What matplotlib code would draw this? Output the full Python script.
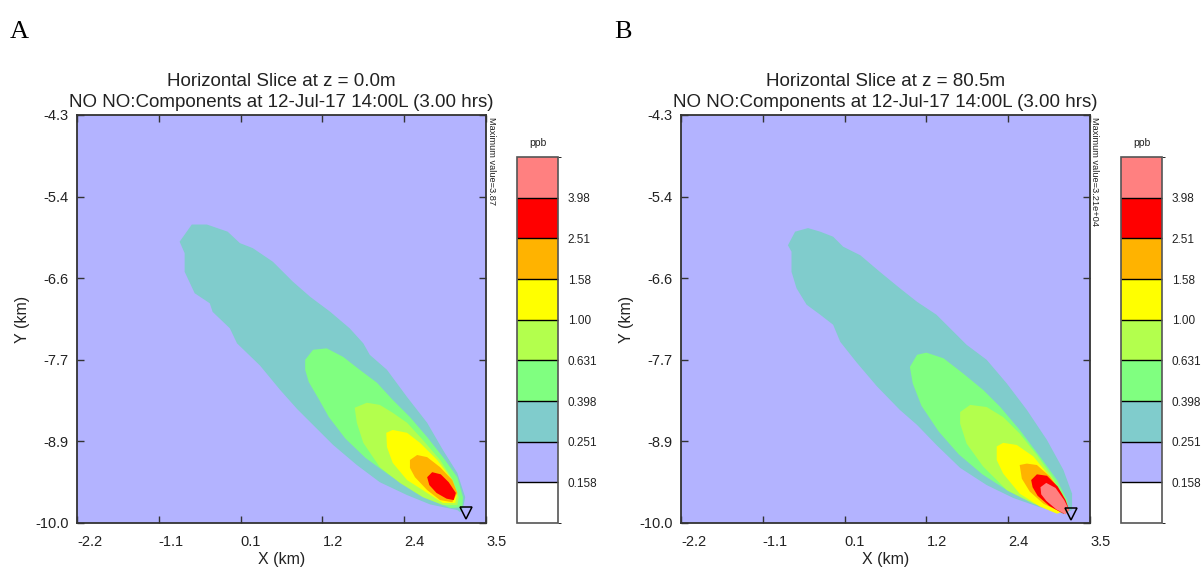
import numpy as np
import matplotlib
matplotlib.use("Agg")
import matplotlib.pyplot as plt
from matplotlib.colors import ListedColormap, BoundaryNorm
import matplotlib.cm as cm

plt.rcParams['font.family'] = ['Liberation Sans', 'DejaVu Sans']

# ---- contour levels (ppb) and colours ----
levels = [0.158, 0.251, 0.398, 0.631, 1.00, 1.58, 2.51, 3.98]
level_labels = ['0.158', '0.251', '0.398', '0.631', '1.00', '1.58', '2.51', '3.98']
level_colors = ['#ffffff', '#b3b3ff', '#80cccc', '#80ff80', '#b3ff4d',
                '#ffff00', '#ffb300', '#ff0000', '#ff8080']

x_range = [-2.2, 3.5]
y_range = [-10.0, -4.3]

# ---- panel A, z = 0.0 m : outlines of each filled level (km) ----
a_0251 = [(-0.77, -6.07), (-0.60, -5.83), (-0.39, -5.83), (-0.10, -5.93), (0.07, -6.09),
          (0.25, -6.16), (0.53, -6.35), (0.81, -6.63), (1.05, -6.84), (1.33, -7.05),
          (1.60, -7.28), (1.79, -7.49), (1.88, -7.65), (2.12, -7.86), (2.40, -8.24),
          (2.68, -8.60), (2.90, -8.98), (3.10, -9.30), (3.21, -9.64), (3.18, -9.79),
          (3.14, -9.85), (3.10, -9.82), (2.72, -9.74), (2.40, -9.61), (2.02, -9.43),
          (1.70, -9.19), (1.37, -8.91), (1.09, -8.63), (0.87, -8.41), (0.63, -8.14),
          (0.35, -7.80), (0.03, -7.49), (-0.07, -7.28), (-0.31, -7.05), (-0.35, -6.93),
          (-0.56, -6.79), (-0.70, -6.49), (-0.70, -6.23)]
a_0398 = [(0.98, -7.72), (1.09, -7.58), (1.28, -7.56), (1.51, -7.68), (1.74, -7.86),
          (1.98, -8.04), (2.20, -8.28), (2.44, -8.52), (2.68, -8.80), (2.90, -9.08),
          (3.10, -9.36), (3.18, -9.64), (3.17, -9.78), (3.00, -9.79), (2.78, -9.69),
          (2.47, -9.53), (2.15, -9.33), (1.82, -9.09), (1.54, -8.82), (1.31, -8.52),
          (1.17, -8.27), (1.03, -8.03), (0.98, -7.86)]
a_0631 = [(1.67, -8.39), (1.84, -8.32), (2.02, -8.35), (2.20, -8.46), (2.40, -8.60),
          (2.62, -8.84), (2.86, -9.12), (3.04, -9.40), (3.12, -9.64), (3.10, -9.75),
          (2.90, -9.75), (2.62, -9.64), (2.30, -9.44), (2.02, -9.22), (1.79, -8.88),
          (1.70, -8.60)]
a_100 = [(2.11, -8.74), (2.20, -8.70), (2.40, -8.74), (2.58, -8.88), (2.82, -9.12),
         (3.00, -9.36), (3.10, -9.58), (3.07, -9.72), (2.90, -9.72), (2.68, -9.58),
         (2.40, -9.40), (2.20, -9.16), (2.12, -8.94)]
a_158 = [(2.44, -9.12), (2.54, -9.05), (2.68, -9.08), (2.86, -9.22), (3.03, -9.40),
         (3.10, -9.58), (3.03, -9.71), (2.86, -9.68), (2.68, -9.54), (2.51, -9.36),
         (2.44, -9.23)]
a_251 = [(2.68, -9.36), (2.75, -9.29), (2.87, -9.32), (2.98, -9.43), (3.08, -9.58),
         (3.05, -9.68), (2.95, -9.66), (2.81, -9.58), (2.71, -9.47)]
a_398 = []
a_source = (3.22, -9.86)
a_max = '3.87'

# ---- panel B, z = 80.5 m ----
b_0251 = [(-0.71, -6.12), (-0.61, -5.93), (-0.43, -5.88), (-0.26, -5.93), (-0.08, -6.00),
          (0.06, -6.14), (0.30, -6.26), (0.57, -6.49), (0.85, -6.72), (1.09, -6.91),
          (1.36, -7.09), (1.60, -7.33), (1.78, -7.51), (2.06, -7.72), (2.34, -8.05),
          (2.62, -8.42), (2.90, -8.84), (3.13, -9.26), (3.25, -9.59), (3.25, -9.82),
          (3.13, -9.87), (2.80, -9.78), (2.43, -9.65), (2.06, -9.47), (1.69, -9.23),
          (1.36, -8.91), (1.09, -8.63), (0.85, -8.42), (0.53, -8.09), (0.25, -7.76),
          (0.02, -7.47), (-0.08, -7.23), (-0.26, -7.09), (-0.45, -6.95), (-0.59, -6.72),
          (-0.66, -6.49), (-0.66, -6.21)]
b_0398 = [(0.99, -7.82), (1.09, -7.65), (1.22, -7.62), (1.46, -7.70), (1.73, -7.91),
          (2.01, -8.14), (2.25, -8.38), (2.52, -8.70), (2.80, -9.07), (3.04, -9.40),
          (3.18, -9.68), (3.20, -9.84), (3.04, -9.84), (2.73, -9.73), (2.37, -9.56),
          (2.00, -9.32), (1.67, -9.04), (1.39, -8.72), (1.15, -8.36), (1.03, -8.05)]
b_0631 = [(1.69, -8.45), (1.83, -8.35), (2.06, -8.38), (2.29, -8.52), (2.52, -8.75),
          (2.76, -9.05), (2.99, -9.38), (3.13, -9.66), (3.18, -9.84), (2.99, -9.82),
          (2.71, -9.73), (2.34, -9.54), (2.01, -9.21), (1.78, -8.89), (1.69, -8.61)]
b_100 = [(2.20, -8.93), (2.29, -8.88), (2.48, -8.91), (2.71, -9.07), (2.94, -9.35),
         (3.13, -9.63), (3.18, -9.82), (3.04, -9.87), (2.80, -9.77), (2.52, -9.59),
         (2.29, -9.31), (2.20, -9.12)]
b_158 = [(2.52, -9.19), (2.62, -9.17), (2.76, -9.19), (2.94, -9.35), (3.11, -9.59),
         (3.18, -9.80), (3.08, -9.84), (2.85, -9.73), (2.66, -9.56), (2.55, -9.38)]
b_251 = [(2.68, -9.40), (2.76, -9.32), (2.90, -9.34), (3.05, -9.49), (3.16, -9.68),
         (3.21, -9.82), (3.13, -9.87), (2.93, -9.76), (2.77, -9.62), (2.70, -9.50)]
b_398 = [(2.81, -9.50), (2.89, -9.44), (3.02, -9.51), (3.14, -9.68), (3.21, -9.82),
         (3.16, -9.88), (3.03, -9.81), (2.89, -9.69), (2.82, -9.60)]
b_source = (3.23, -9.87)
b_max = '3.21e+04'

W, H = 1202, 574
fig = plt.figure(figsize=(W / 100, H / 100), dpi=100)


def px(x0, y0, w, h):
    # pixel box (left, top, width, height) -> figure fraction
    return [x0 / W, 1 - (y0 + h) / H, w / W, h / H]


cmap = ListedColormap(level_colors)
bounds = [0.1] + levels + [6.31]
norm = BoundaryNorm(bounds, cmap.N)


def panel(left, letter, z, regions, source, maxval):
    ax = fig.add_axes(px(left, 115, 409, 408))
    ax.set_facecolor(level_colors[1])
    for reg, col in zip(regions, level_colors[2:]):
        if len(reg) == 0:
            continue
        xs, ys = zip(*reg)
        ax.fill(xs, ys, color=col, lw=0)
    ax.plot(source[0], source[1], marker='v', ms=9, mfc='none', mec='black', mew=1.1)
    ax.set_xlim(x_range)
    ax.set_ylim(y_range)
    xt = np.linspace(x_range[0], x_range[1], 6)
    yt = np.linspace(y_range[0], y_range[1], 6)
    ax.set_xticks(xt)
    ax.set_xticklabels(['%.1f' % v for v in xt], ha='left')
    ax.set_yticks(yt)
    ax.set_yticklabels(['%.1f' % v for v in yt])
    ax.tick_params(direction='in', top=True, right=True, length=5, width=1,
                   color='#333333', labelsize=10.5, labelcolor='#222222')
    ax.tick_params(axis='x', pad=9)
    ax.tick_params(axis='y', pad=6)
    for s in ax.spines.values():
        s.set_linewidth(1.3)
        s.set_color('#333333')
    ax.set_xlabel('X (km)', fontsize=11.5, color='#222222', labelpad=2)
    ax.set_ylabel('Y (km)', fontsize=11.5, color='#222222', labelpad=4)
    ax.set_title('Horizontal Slice at z = %sm\nNO NO:Components at 12-Jul-17 14:00L (3.00 hrs)' % z,
                 fontsize=13.5, color='#222222', pad=6, linespacing=1.3)

    # colour bar
    cax = fig.add_axes(px(left + 440, 157, 41, 366))
    sm = cm.ScalarMappable(norm=norm, cmap=cmap)
    cb = fig.colorbar(sm, cax=cax, boundaries=bounds, spacing='uniform',
                      ticks=levels, drawedges=True)
    cb.set_ticklabels(level_labels)
    cb.ax.tick_params(length=0, labelsize=8.5, pad=7, labelcolor='#222222')
    cb.dividers.set_color('black')
    cb.dividers.set_linewidth(1)
    cb.outline.set_edgecolor('#555555')
    cb.outline.set_linewidth(1.2)
    fig.text((left + 460.5) / W, 1 - 143 / H, 'ppb', fontsize=7.5, ha='center',
             va='center', color='#222222')
    fig.text((left + 414) / W, 1 - 117 / H, 'Maximum value=' + maxval, rotation=-90,
             fontsize=6.7, ha='center', va='top', color='#222222')
    fig.text((left - 67) / W, 1 - 38 / H, letter, fontsize=19,
             family=['Liberation Serif', 'DejaVu Serif'], ha='left', va='baseline')


panel(77, 'A', '0.0', [a_0251, a_0398, a_0631, a_100, a_158, a_251, a_398], a_source, a_max)
panel(681, 'B', '80.5', [b_0251, b_0398, b_0631, b_100, b_158, b_251, b_398], b_source, b_max)

fig.savefig('out.png', dpi=100)
